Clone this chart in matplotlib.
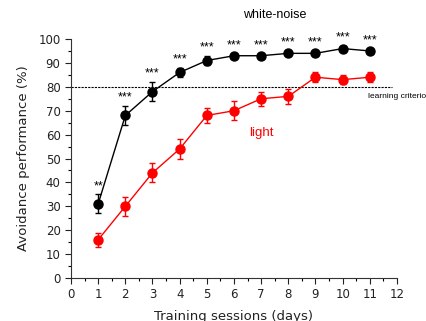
import numpy as np
import matplotlib.pyplot as plt
from matplotlib.ticker import MultipleLocator

# Data
sessions = np.arange(1, 12)
noise_mean = [31, 68, 78, 86, 91, 93, 93, 94, 94, 96, 95]
noise_err = [4, 4, 4, 2, 2, 1, 1, 1, 1, 1, 1]
light_mean = [16, 30, 44, 54, 68, 70, 75, 76, 84, 83, 84]
light_err = [3, 4, 4, 4, 3, 4, 3, 3, 2, 2, 2]
stars = ['**', '***', '***', '***', '***', '***', '***', '***', '***', '***', '***']
criterion = 80

fig = plt.figure(figsize=(4.27, 3.21), dpi=100)
ax = fig.add_axes([71 / 427, 1 - 278 / 321, 326 / 427, 239 / 321])

# Series
ax.errorbar(sessions, noise_mean, yerr=noise_err, color='black', marker='o',
            markersize=6.5, linewidth=1, elinewidth=1, capsize=2.5, zorder=3)
ax.errorbar(sessions, light_mean, yerr=light_err, color='red', marker='o',
            markersize=6.5, linewidth=1, elinewidth=1, capsize=2.5, zorder=3)

# Learning criterion line
ax.plot([0, 11.8], [criterion, criterion], color='black', linestyle=(0, (2, 1)),
        linewidth=0.8)
ax.text(10.95, criterion - 4, 'learning criterion', fontsize=6,
        family='Liberation Sans', ha='left', va='center', clip_on=False)

# Significance marks
for x, m, e, s in zip(sessions, noise_mean, noise_err, stars):
    ax.annotate(s, (x, m + e), xytext=(0, 6), textcoords='offset points',
                ha='center', va='center', fontsize=9, family='Liberation Sans')

# Series labels
ax.text(7.5, 110, 'white-noise', fontsize=9, family='Liberation Sans',
        ha='center', va='center', clip_on=False)
ax.text(7.0, 60.5, 'light', fontsize=9.5, family='Liberation Sans',
        color='red', ha='center', va='center')

# Axes
ax.set_xlim(0, 12)
ax.set_ylim(0, 100)
ax.xaxis.set_major_locator(MultipleLocator(1))
ax.xaxis.set_minor_locator(MultipleLocator(0.5))
ax.yaxis.set_major_locator(MultipleLocator(10))
ax.yaxis.set_minor_locator(MultipleLocator(5))
ax.tick_params(which='major', direction='out', length=4, width=0.8,
               labelsize=8.5, colors='#222222')
ax.tick_params(which='minor', direction='out', length=2, width=0.8)
for side in ['top', 'right']:
    ax.spines[side].set_visible(False)
for side in ['left', 'bottom']:
    ax.spines[side].set_color('#333333')
    ax.spines[side].set_linewidth(0.8)

ax.set_xlabel('Training sessions (days)', fontsize=9.5, color='#222222', labelpad=6)
ax.set_ylabel('Avoidance performance (%)', fontsize=9.5, color='#222222', labelpad=6)

fig.savefig('out.png', dpi=100)
